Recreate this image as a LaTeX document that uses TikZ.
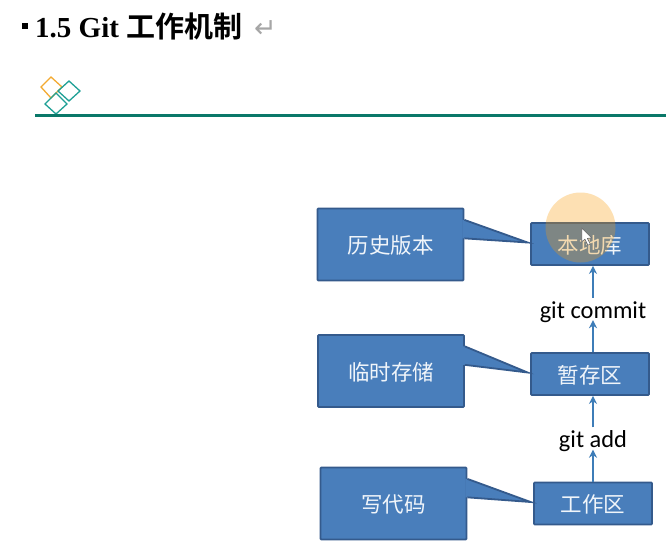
\documentclass[tikz,border=0pt]{standalone}
\usepackage{fontspec}
\setmainfont{Liberation Serif}
\newfontfamily\cjk{Noto Sans CJK SC}
\newfontfamily\cjkbold{Noto Sans CJK SC}[BoldFont={Noto Sans CJK SC Bold}]
\newfontfamily\labelfont{Carlito}
\newfontfamily\symfont{DejaVu Sans}
\usetikzlibrary{arrows.meta, positioning, calc}
\definecolor{boxblue}{RGB}{73,126,187}
\definecolor{boxedge}{RGB}{52,90,140}
\definecolor{arrowblue}{RGB}{62,125,184}
\definecolor{ruleteal}{RGB}{10,120,105}
\definecolor{diateal}{RGB}{30,160,150}
\definecolor{diaorange}{RGB}{243,170,50}
\definecolor{haloorange}{RGB}{250,155,5}
\tikzset{
  %% ---- boxes ----
  notebox/.style = {rectangle, draw=boxedge, line width=1.8pt, fill=boxblue,
                    rounded corners=0.8pt, minimum width=146pt, minimum height=72pt,
                    inner sep=0pt, text=white!92!boxblue, text height=20pt, text depth=2pt,
                    font=\fontsize{21.5}{24}\selectfont\cjk},
  areabox/.style = {notebox, minimum width=118pt, minimum height=42pt},
  cmdlabel/.style = {fill=white, inner xsep=0pt, inner ysep=-2pt, minimum width=108pt,
                     text height=22pt, text depth=4pt,
                     font=\fontsize{24.4}{26}\selectfont\labelfont},
  diamondline/.style = {line width=1.3pt, line join=miter},
  %% ---- arrows ----
  arr/.style = {-{Stealth[length=8pt,width=8pt]}, line width=1.4pt, color=arrowblue},
  wedgeedge/.style = {draw=boxedge, line width=1.8pt, line join=miter},
}
%% wedge from a note box to the area box it points at
\newcommand{\notewedge}[2]{
  \coordinate (tip#1) at ($(#2.west)+(-2.5,-1.5)$);
  \fill[boxblue] ($(#1.north east)!1/6!(#1.south east)+(-2,0)$) --
    ($(#1.north east)!1/6!(#1.south east)$) -- (tip#1) --
    ($(#1.north east)!5/12!(#1.south east)$) --
    ($(#1.north east)!5/12!(#1.south east)+(-2,0)$) -- cycle;
  \draw[wedgeedge] ($(#1.north east)!1/6!(#1.south east)$) -- (tip#1)
    -- ($(#1.north east)!5/12!(#1.south east)$);
}
\begin{document}
\begin{tikzpicture}[x=1pt, y=-1pt]
\useasboundingbox[fill=white] (0,0) rectangle (666,546);

%% ── heading ──────────────────────────────────────────────────────────────
\node[fill=black, inner sep=0pt, minimum size=6pt] (bullet) at (25,26) {};
\node[anchor=base west, inner sep=0pt, font=\fontsize{29}{32}\selectfont\bfseries]
  (title) at (35,37) {1.5 Git {\cjkbold\bfseries 工作机制}};
\node[anchor=base west, inner sep=0pt, text=gray!70, font=\fontsize{27}{30}\selectfont\symfont]
  (retmark) at (254,37) {↵};

%% ── logo and rule ────────────────────────────────────────────────────────
\draw[diamondline, diaorange] (41,87) -- (51,77) -- (62,87) -- (51,98) -- cycle;
\draw[diamondline, diateal] (58,91) -- (69,81) -- (80,91) -- (69,101) -- cycle;
\draw[diamondline, diateal] (45,104) -- (56,93) -- (67,104) -- (56,114) -- cycle;
\draw[line width=3pt, ruleteal] (35,115.5) -- (666,115.5);

%% ── right column ─────────────────────────────────────────────────────────
\node[areabox] (repo)  at (590,244) {本地库};
\node[areabox] (stage) at (590,374) {暂存区};
\node[areabox] (work)  at (593,503.5) {工作区};

\node[cmdlabel] (commit) at (593,309) {git commit};
\node[cmdlabel, minimum width=70pt] (add) at (593,438.5) {git add};

%% ── left column ──────────────────────────────────────────────────────────
\node[notebox] (history) at (390.5,244.5) {历史版本};
\node[notebox] (temp)    at (391,371)     {临时存储};
\node[notebox] (code)    at (393.5,503.5) {写代码};

\notewedge{history}{repo}
\notewedge{temp}{stage}
\notewedge{code}{work}

%% ── arrows ───────────────────────────────────────────────────────────────
\draw[arr] (stage.north -| commit.south) -- (commit.south);
\draw[arr] (commit.north) -- (commit.north |- repo.south);
\draw[arr] (work.north -| add.south) -- (add.south);
\draw[arr] (add.north) -- (add.north |- stage.south);

%% ── pointer highlight ────────────────────────────────────────────────────
\node[circle, fill=haloorange, fill opacity=0.3, minimum size=70pt, inner sep=0pt]
  (halo) at (580.5,227.5) {};
\draw[fill=white, draw=gray!80!black, line width=0.6pt, line join=round]
  (halo.center) ++(1.2,0.5) -- ++(0,14) -- ++(3.2,-2.8) -- ++(3,6) -- ++(2.4,-1.2)
  -- ++(-3,-5.6) -- ++(4.4,-0.4) -- cycle;

\end{tikzpicture}
\end{document}
